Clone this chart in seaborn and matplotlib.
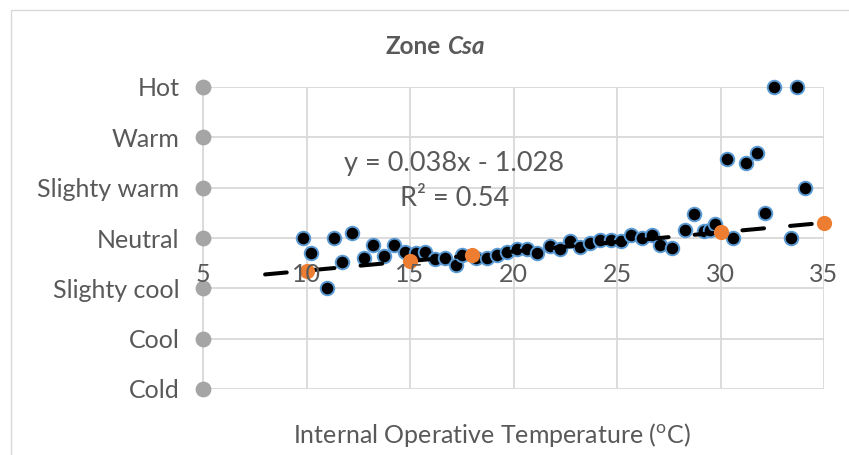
import numpy as np
import pandas as pd
import matplotlib
matplotlib.use('Agg')
import matplotlib.pyplot as plt
import seaborn as sns
from matplotlib.patches import Rectangle

# thermal sensation scale (category markers sit on the y axis at x = 5)
sensation_labels = ['Cold', 'Cool', 'Slighty cool', 'Neutral', 'Slighty warm', 'Warm', 'Hot']
sensation_values = [-3, -2, -1, 0, 1, 2, 3]
scale_x = [5, 5, 5, 5, 5, 5, 5]

# observed votes vs internal operative temperature
temp_obs = [9.85, 10.22, 10.97, 11.33, 11.73, 12.18, 12.78, 13.23, 13.74, 14.23,
            14.76, 15.3, 15.72, 16.2, 16.7, 17.2, 17.5, 18.2, 18.7, 19.2,
            19.7, 20.15, 20.65, 21.15, 21.75, 22.25, 22.72, 23.2, 23.7, 24.2,
            24.7, 25.17, 25.7, 26.22, 26.7, 27.08, 27.68, 28.29, 28.7, 29.18,
            29.5, 29.73, 30.3, 30.6, 31.23, 31.75, 32.15, 32.6, 33.4, 33.68, 34.08]
vote_obs = [0.0, -0.30, -1.0, 0.0, -0.48, 0.10, -0.40, -0.13, -0.35, -0.13,
            -0.27, -0.30, -0.27, -0.42, -0.40, -0.54, -0.34, -0.39, -0.40, -0.34,
            -0.27, -0.21, -0.22, -0.30, -0.15, -0.22, -0.05, -0.17, -0.09, -0.03,
            -0.03, -0.06, 0.06, 0.0, 0.06, -0.14, -0.20, 0.15, 0.48, 0.14,
            0.15, 0.27, 1.57, 0.0, 1.50, 1.68, 0.50, 3.0, 0.0, 3.0, 1.0]

# model points
temp_pred = [10, 15, 18, 30, 35]
vote_pred = [-0.65, -0.46, -0.34, 0.11, 0.30]

# linear trend
slope, intercept = 0.038, -1.028
trend_x = [8, 35]
x_ticks = [5, 10, 15, 20, 25, 30, 35]
x_axis_cross = -0.5

grey_txt = '#595959'
grid_col = '#D9D9D9'
fs = 18

sns.set_theme(style='white')
plt.rcParams['font.family'] = ['Lato', 'DejaVu Sans']
plt.rcParams['mathtext.fontset'] = 'custom'
plt.rcParams['mathtext.rm'] = 'Lato'

W, H = 849, 455
fig = plt.figure(figsize=(W / 100, H / 100), dpi=100)
ax = fig.add_axes([203 / W, 1 - 389 / H, 621 / W, 302 / H])

obs = pd.DataFrame({'temp': temp_obs, 'vote': vote_obs})
pred = pd.DataFrame({'temp': temp_pred, 'vote': vote_pred})
scale = pd.DataFrame({'temp': scale_x, 'vote': sensation_values})
trend = pd.DataFrame({'temp': trend_x})
trend['vote'] = slope * trend['temp'] + intercept

sns.scatterplot(data=obs, x='temp', y='vote', ax=ax, color='black', s=95,
                edgecolor='#5B9BD5', linewidth=1.4, zorder=3, clip_on=False)
sns.lineplot(data=trend, x='temp', y='vote', ax=ax, color='black', lw=2.9,
             linestyle=(0, (5.4, 6.5)), dash_capstyle='round', zorder=4)
sns.scatterplot(data=pred, x='temp', y='vote', ax=ax, color='#ED7D31', s=120,
                linewidth=0, zorder=5, clip_on=False)
sns.scatterplot(data=scale, x='temp', y='vote', ax=ax, color='#A5A5A5', s=130,
                linewidth=0, zorder=5, clip_on=False)

ax.set_xlim(5, 35)
ax.set_ylim(-3, 3)
ax.set_xticks(x_ticks)
ax.set_xticklabels([])
ax.set_yticks(sensation_values)
ax.set_yticklabels(sensation_labels)
ax.grid(True, color=grid_col, lw=1.3)
ax.set_axisbelow(True)
for s in ['top', 'right', 'bottom']:
    ax.spines[s].set_visible(False)
ax.spines['left'].set_color(grid_col)
ax.spines['left'].set_linewidth(1.3)
ax.tick_params(axis='both', length=0, labelcolor=grey_txt, labelsize=fs)
ax.tick_params(axis='y', pad=17)
ax.set_xlabel('')
ax.set_ylabel('')

# x tick labels sit where the horizontal axis crosses, on top of the markers
for t in x_ticks:
    ax.text(t, x_axis_cross, str(t), ha='center', va='top', fontsize=fs,
            color=grey_txt, zorder=6)

ax.text(454 / W, 1 - 163 / H, f'y = {slope:.3f}x - {abs(intercept):.3f}',
        transform=fig.transFigure, ha='center', va='center', fontsize=19.5, color=grey_txt)
ax.text(455 / W, 1 - 198 / H, 'R² = 0.54', transform=fig.transFigure,
        ha='center', va='center', fontsize=19.5, color=grey_txt)

fig.text(441 / W, 1 - 47 / H, 'Zone', ha='right', va='center', fontsize=17.5,
         weight='bold', color=grey_txt)
fig.text(447 / W, 1 - 47 / H, 'Csa', ha='left', va='center', fontsize=17.5,
         weight='bold', style='italic', color=grey_txt)
fig.text(492 / W, 1 - 435 / H, r'Internal Operative Temperature ($^{\mathrm{o}}$C)',
         ha='center', va='center', fontsize=fs, color=grey_txt)

fig.add_artist(Rectangle((11 / W, -0.05), 1.0, 1 - 10 / H + 0.05,
                         transform=fig.transFigure, fill=False,
                         edgecolor=grid_col, lw=1))

fig.savefig('out.png', dpi=100)
